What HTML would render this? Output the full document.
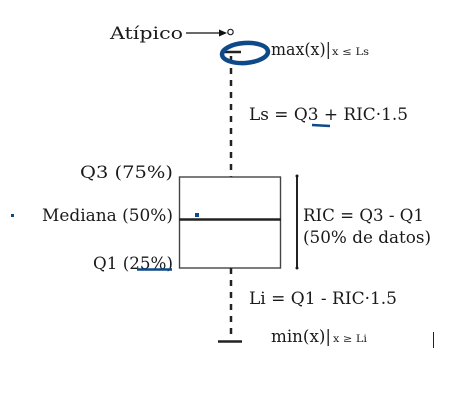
<!DOCTYPE html>
<html><head><meta charset="utf-8"><style>
html,body{margin:0;padding:0;background:#fff;width:473px;height:400px;overflow:hidden}
</style></head><body>
<svg width="473" height="400" viewBox="0 0 473 400" xmlns="http://www.w3.org/2000/svg" font-family="'DejaVu Serif','Liberation Serif',serif" fill="#1a1a1a">
<rect width="473" height="400" fill="#fff"/>
<text x="110" y="39" font-size="17" textLength="73" lengthAdjust="spacingAndGlyphs">Atípico</text>
<line x1="186" y1="33" x2="221" y2="33" stroke="#111" stroke-width="1.3"/>
<polygon points="227,33 219,29.5 219,36.5" fill="#111"/>
<circle cx="230.5" cy="32" r="2.7" fill="none" stroke="#222" stroke-width="1.2"/>
<line x1="222" y1="52" x2="241" y2="52" stroke="#222" stroke-width="2.5"/>
<line x1="231" y1="56" x2="231" y2="177" stroke="#222" stroke-width="2.5" stroke-dasharray="6,6"/>
<ellipse cx="245" cy="53" rx="23" ry="10" fill="none" stroke="#0e4a8a" stroke-width="4.5" transform="rotate(-4 245 53)"/>
<text x="271" y="55" font-size="17" textLength="60" lengthAdjust="spacingAndGlyphs">max(x)|</text>
<text x="332" y="55" font-size="10" textLength="37" lengthAdjust="spacingAndGlyphs">x ≤ Ls</text>
<text x="249" y="120" font-size="17" textLength="159" lengthAdjust="spacingAndGlyphs">Ls = Q3 + RIC·1.5</text>
<line x1="312" y1="125" x2="330" y2="126" stroke="#0e4a8a" stroke-width="2.5"/>
<rect x="179.5" y="177" width="101" height="91" fill="none" stroke="#444" stroke-width="1.4"/>
<line x1="179" y1="219.5" x2="281" y2="219.5" stroke="#222" stroke-width="2.5"/>
<line x1="231" y1="268" x2="231" y2="335" stroke="#222" stroke-width="2.5" stroke-dasharray="6,6"/>
<line x1="218" y1="341.5" x2="242" y2="341.5" stroke="#222" stroke-width="2.5"/>
<line x1="297" y1="176" x2="297" y2="268" stroke="#222" stroke-width="2"/>
<circle cx="297" cy="176" r="1.5"/><circle cx="297" cy="268" r="1.5"/>
<text x="80" y="178" font-size="17" textLength="93" lengthAdjust="spacingAndGlyphs">Q3 (75%)</text>
<text x="42" y="221" font-size="17" textLength="131" lengthAdjust="spacingAndGlyphs">Mediana (50%)</text>
<text x="93" y="269" font-size="17" textLength="80" lengthAdjust="spacingAndGlyphs">Q1 (25%)</text>
<line x1="137" y1="269.5" x2="172" y2="269.5" stroke="#0e4a8a" stroke-width="2.5"/>
<rect x="11" y="214" width="3" height="3" fill="#0e4a8a"/>
<rect x="195" y="213" width="4" height="4" fill="#0e4a8a"/>
<text x="303" y="221" font-size="17" textLength="121" lengthAdjust="spacingAndGlyphs">RIC = Q3 - Q1</text>
<text x="303" y="243" font-size="17" textLength="128" lengthAdjust="spacingAndGlyphs">(50% de datos)</text>
<text x="249" y="304" font-size="17" textLength="148" lengthAdjust="spacingAndGlyphs">Li = Q1 - RIC·1.5</text>
<text x="271" y="342" font-size="17" textLength="60" lengthAdjust="spacingAndGlyphs">min(x)|</text>
<text x="333" y="342" font-size="10" textLength="34" lengthAdjust="spacingAndGlyphs">x ≥ Li</text>
<line x1="433.5" y1="332" x2="433.5" y2="348" stroke="#222" stroke-width="1"/>
</svg>
</body></html>
